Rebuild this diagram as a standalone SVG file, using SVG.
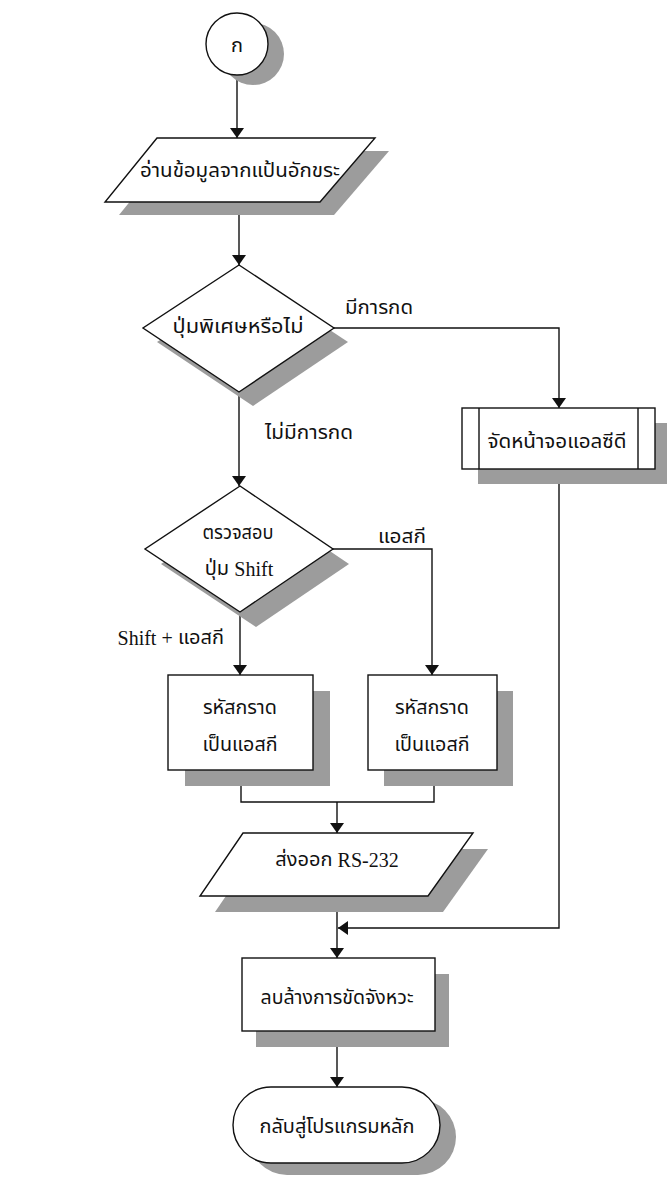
<svg xmlns="http://www.w3.org/2000/svg" width="667" height="1178" viewBox="0 0 667 1178">
<style>
.sh{fill:#9c9c9c;stroke:none}
.nd{fill:#fff;stroke:#111;stroke-width:1.4}
.t{font-family:"Noto Sans Thai","Noto Sans","DejaVu Sans",sans-serif;font-size:20px;fill:#111;text-anchor:middle;dominant-baseline:central}
.lb{font-family:"Noto Sans Thai","Noto Sans","DejaVu Sans",sans-serif;font-size:20px;fill:#111;dominant-baseline:central}
.s{font-family:"Liberation Serif",serif}
.c{fill:none;stroke:#111;stroke-width:1.4}
</style>
<defs>
<marker id="ah" viewBox="0 0 10 14" refX="10" refY="7" markerWidth="10" markerHeight="14" markerUnits="userSpaceOnUse" orient="auto">
<path d="M0,0 L10,7 L0,14 Z" fill="#111"/>
</marker>
</defs>
<rect width="667" height="1178" fill="#fff"/>
<g id="connectors">
<path class="c" d="M237,75 V138" marker-end="url(#ah)"/>
<path class="c" d="M239,202 V265" marker-end="url(#ah)"/>
<path class="c" d="M334,328 H559 V408" marker-end="url(#ah)"/>
<path class="c" d="M239,392 V486" marker-end="url(#ah)"/>
<path class="c" d="M333,549 H432 V675" marker-end="url(#ah)"/>
<path class="c" d="M240,612 V675" marker-end="url(#ah)"/>
<path class="c" d="M241,770 V802 H434 V770"/>
<path class="c" d="M337,802 V833" marker-end="url(#ah)"/>
<path class="c" d="M337,896 V958" marker-end="url(#ah)"/>
<path class="c" d="M559,469 V928 H338" marker-end="url(#ah)"/>
<path class="c" d="M337,1031 V1087" marker-end="url(#ah)"/>
<text class="lb" x="345" y="308" textLength="68" lengthAdjust="spacingAndGlyphs">มีการกด</text>
<text class="lb" x="265" y="433" textLength="88" lengthAdjust="spacingAndGlyphs">ไม่มีการกด</text>
<text class="lb" x="378" y="537" textLength="48" lengthAdjust="spacingAndGlyphs">แอสกี</text>
<text class="lb" x="224" y="638" text-anchor="end"><tspan class="s">Shift +</tspan> แอสกี</text>
</g>
<g id="start">
<circle class="sh" cx="253" cy="54" r="31"/>
<circle class="nd" cx="237" cy="44" r="31"/>
<text class="t" x="237" y="46" font-size="30">ก</text>
</g>
<g id="read">
<polygon class="sh" points="171,151 389,151 334,215 119,215"/>
<polygon class="nd" points="157,138 375,138 320,202 105,202"/>
<text class="t" x="240" y="171" textLength="200" lengthAdjust="spacingAndGlyphs">อ่านข้อมูลจากแป้นอักขระ</text>
</g>
<g id="dec1">
<polygon class="sh" points="253,279 348,342 253,406 157,342"/>
<polygon class="nd" points="239,265 334,328 239,392 143,328"/>
<text class="t" x="238" y="327" textLength="131" lengthAdjust="spacingAndGlyphs">ปุ่มพิเศษหรือไม่</text>
</g>
<g id="lcd">
<rect class="sh" x="478" y="423" width="193" height="61"/>
<rect class="nd" x="462" y="408" width="193" height="61"/>
<path class="c" d="M479,408 V469 M638,408 V469"/>
<text class="t" x="557" y="442" textLength="139" lengthAdjust="spacingAndGlyphs">จัดหน้าจอแอลซีดี</text>
</g>
<g id="dec2">
<polygon class="sh" points="256,501 349,564 256,627 161,564"/>
<polygon class="nd" points="240,486 333,549 240,612 145,549"/>
<text class="t" x="238" y="533" textLength="71" lengthAdjust="spacingAndGlyphs">ตรวจสอบ</text>
<text class="t" x="239" y="569">ปุ่ม <tspan class="s">Shift</tspan></text>
</g>
<g id="asc1">
<rect class="sh" x="185" y="691" width="145" height="95"/>
<rect class="nd" x="168" y="675" width="145" height="95"/>
<text class="t" x="240" y="708" textLength="74" lengthAdjust="spacingAndGlyphs">รหัสกราด</text>
<text class="t" x="240" y="745" textLength="75" lengthAdjust="spacingAndGlyphs">เป็นแอสกี</text>
</g>
<g id="asc2">
<rect class="sh" x="384" y="691" width="129" height="95"/>
<rect class="nd" x="368" y="675" width="129" height="95"/>
<text class="t" x="432" y="708" textLength="74" lengthAdjust="spacingAndGlyphs">รหัสกราด</text>
<text class="t" x="432" y="745" textLength="75" lengthAdjust="spacingAndGlyphs">เป็นแอสกี</text>
</g>
<g id="send">
<polygon class="sh" points="258,849 488,849 443,912 215,912"/>
<polygon class="nd" points="243,833 473,833 428,896 200,896"/>
<text class="t" x="337" y="860">ส่งออก <tspan class="s">RS-232</tspan></text>
</g>
<g id="clear">
<rect class="sh" x="256" y="974" width="193" height="73"/>
<rect class="nd" x="242" y="958" width="193" height="73"/>
<text class="t" x="337" y="998" textLength="153" lengthAdjust="spacingAndGlyphs">ลบล้างการขัดจังหวะ</text>
</g>
<g id="end">
<rect class="sh" x="249" y="1099" width="207" height="76" rx="38"/>
<rect class="nd" x="233" y="1087" width="207" height="76" rx="38"/>
<text class="t" x="337" y="1127" textLength="155" lengthAdjust="spacingAndGlyphs">กลับสู่โปรแกรมหลัก</text>
</g>
</svg>
